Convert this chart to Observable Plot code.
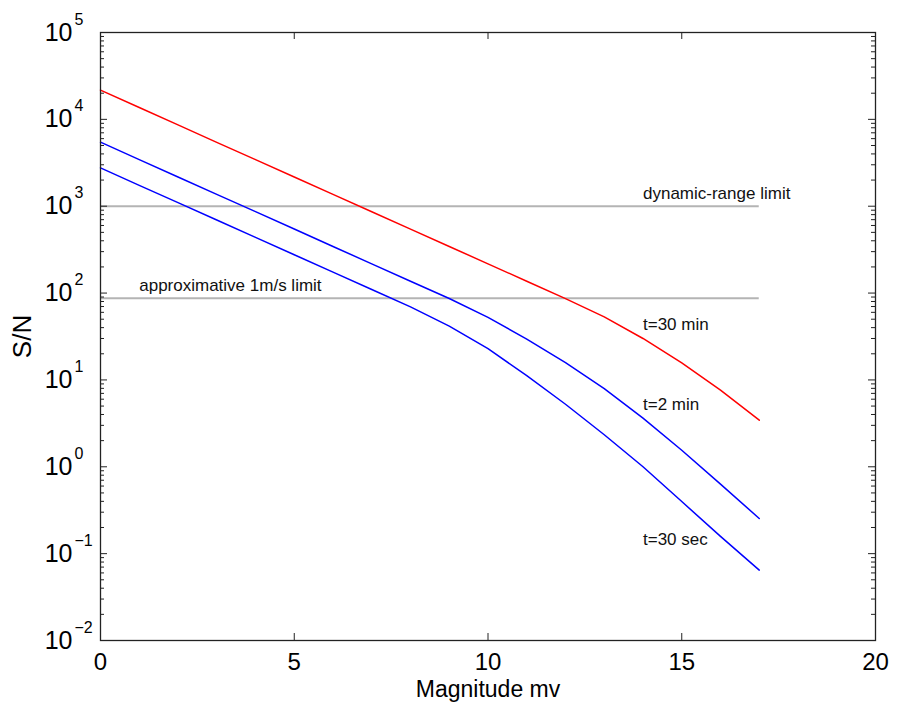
<!DOCTYPE html>
<html>
<head>
<meta charset="utf-8">
<script src="https://cdn.jsdelivr.net/npm/d3@7"></script>
<script src="https://cdn.jsdelivr.net/npm/@observablehq/plot@0.6"></script>
<style>
  html, body { margin: 0; padding: 0; background: #fff; }
  #chart { width: 901px; height: 702px; }
</style>
</head>
<body>
<div id="chart"></div>
<script>
// ---- data ----
const magnitudes = [0, 1, 2, 3, 4, 5, 6, 7, 8, 9, 10, 11, 12, 13, 14, 15, 16, 17];
const snT30min = [21700, 13700, 8630, 5440, 3440, 2170, 1370, 863, 545, 344, 217, 137, 86.3, 53.2, 30.0, 15.7, 7.62, 3.44];
const snT2min  = [5460, 3440, 2170, 1370, 865, 546, 344, 217, 137, 86.5, 52.5, 29.5, 15.8, 7.94, 3.63, 1.55, 0.631, 0.254];
const snT30sec = [2760, 1740, 1100, 693, 438, 276, 174, 110, 69.3, 41.7, 22.9, 11.2, 5.25, 2.34, 1.0, 0.398, 0.158, 0.0646];

const seriesNames = ["t=30 min", "t=2 min", "t=30 sec"];
const seriesColors = ["#ff0000", "#0000ff", "#0000ff"];
const curveLabelX = [14, 14, 14];
const curveLabelY = [37.4, 4.5, 0.125];

const limitValues = [1000, 87];
const limitLabels = ["dynamic-range limit", "approximative 1m/s limit"];
const limitLabelX = [14, 1];
const limitEnd = 17;

const xTicks = [0, 5, 10, 15, 20];
const yExponents = [-2, -1, 0, 1, 2, 3, 4, 5];
const minorMultipliers = [2, 3, 4, 5, 6, 7, 8, 9];

const xLabel = "Magnitude mv";
const yLabel = "S/N";

// ---- build tables ----
const allSeries = [snT30min, snT2min, snT30sec];
const rows = [];
allSeries.forEach((vals, s) => {
  magnitudes.forEach((m, i) => rows.push({ mag: m, sn: vals[i], series: seriesNames[s] }));
});
const curveLabels = seriesNames.map((n, i) => ({ text: n, x: curveLabelX[i], y: curveLabelY[i] }));
const limits = limitValues.map((v, i) => ({ y: v, text: limitLabels[i], x: limitLabelX[i] }));
const yMajor = yExponents.map(e => Math.pow(10, e));
const yMinor = [];
yExponents.slice(0, -1).forEach(e => minorMultipliers.forEach(m => yMinor.push(m * Math.pow(10, e))));

const W = 901, H = 702, mL = 100, mR = 26, mT = 32, mB = 62;
const plotW = W - mL - mR, plotH = H - mT - mB;
const ink = "#222";

const chart = Plot.plot({
  width: W,
  height: H,
  marginLeft: mL,
  marginRight: mR,
  marginTop: mT,
  marginBottom: mB,
  style: { fontFamily: "'Liberation Sans', Arial, Helvetica, sans-serif", background: "#fff", color: "#000" },
  x: { domain: [0, 20] },
  y: { type: "log", domain: [1e-2, 1e5], axis: null },
  color: { domain: seriesNames, range: seriesColors },
  marks: [
    Plot.ruleY(limits, { y: "y", x1: 0, x2: limitEnd, stroke: "#b4b4b4", strokeWidth: 2 }),
    Plot.text(limits, { x: "x", y: "y", text: "text", textAnchor: "start", lineAnchor: "bottom", dy: -7, fontSize: 17, fill: "#111" }),
    Plot.line(rows, { x: "mag", y: "sn", z: "series", stroke: "series", strokeWidth: 1.5 }),
    Plot.text(curveLabels, { x: "x", y: "y", text: "text", textAnchor: "start", lineAnchor: "bottom", fontSize: 17, fill: "#111" }),
    // inside ticks, y (left and right)
    Plot.tickY(yMajor, { y: d => d, insetRight: plotW - 7, stroke: ink }),
    Plot.tickY(yMinor, { y: d => d, insetRight: plotW - 4, stroke: ink }),
    Plot.tickY(yMajor, { y: d => d, insetLeft: plotW - 7, stroke: ink }),
    Plot.tickY(yMinor, { y: d => d, insetLeft: plotW - 4, stroke: ink }),
    // inside ticks, x (bottom and top)
    Plot.tickX(xTicks, { x: d => d, insetTop: plotH - 7, stroke: ink }),
    Plot.tickX(xTicks, { x: d => d, insetBottom: plotH - 7, stroke: ink }),
    Plot.frame({ stroke: ink, strokeWidth: 1.3 }),
    // x axis labels
    Plot.axisX({ ticks: xTicks, tickSize: 0, tickPadding: 12, fontSize: 24, label: null, tickFormat: d => String(d) }),
    // y axis labels 10^k
    Plot.text(yExponents, { y: e => Math.pow(10, e), text: () => "10", frameAnchor: "left", textAnchor: "end", lineAnchor: "middle", dx: -28, fontSize: 25, fill: "#000" }),
    Plot.text(yExponents, { y: e => Math.pow(10, e), text: e => (e < 0 ? "\u2212" + Math.abs(e) : String(e)), frameAnchor: "left", textAnchor: "start", lineAnchor: "middle", dx: -26, dy: -13, fontSize: 16, fill: "#000" }),
    // axis titles
    Plot.text([xLabel], { frameAnchor: "bottom", text: d => d, lineAnchor: "bottom", dy: 56, fontSize: 23, fill: "#000" }),
    Plot.text([yLabel], { frameAnchor: "left", text: d => d, rotate: -90, lineAnchor: "middle", textAnchor: "middle", dx: -78, fontSize: 26, fill: "#000" })
  ]
});

document.getElementById("chart").appendChild(chart);
</script>
</body>
</html>
